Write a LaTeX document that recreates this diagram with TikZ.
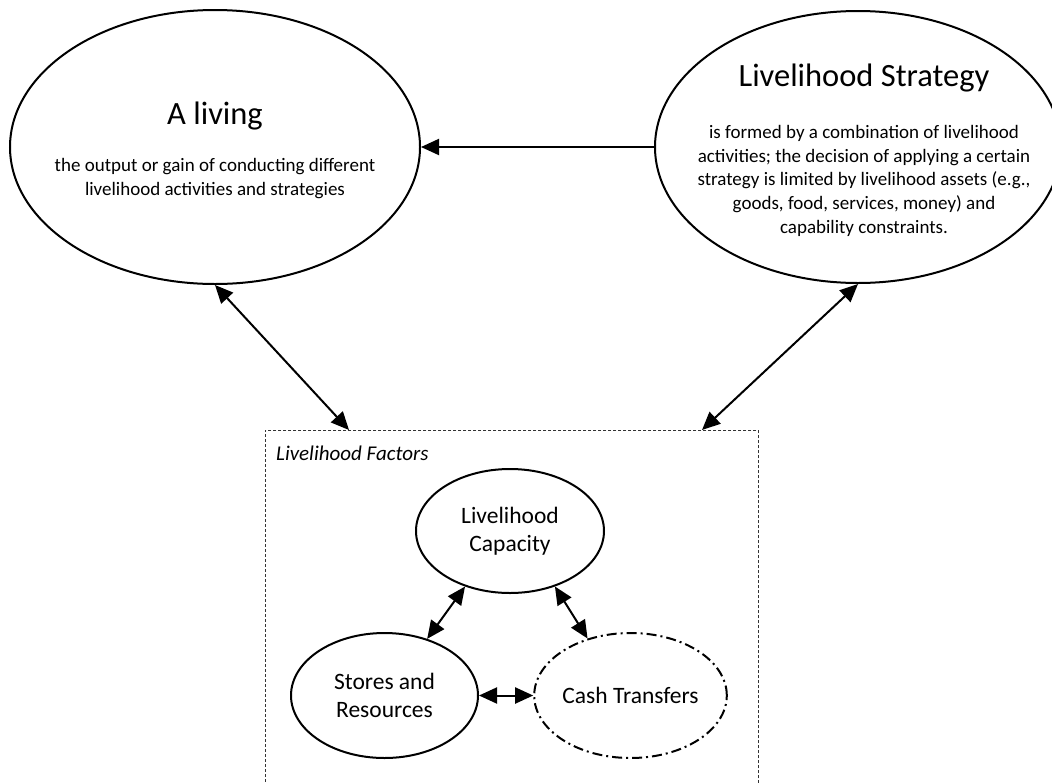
\documentclass[tikz,border=0pt]{standalone}
\usepackage{fontspec}
\setmainfont{Carlito}
\usetikzlibrary{shapes.geometric,arrows.meta}
\begin{document}
\begin{tikzpicture}[x=1pt,y=-1pt,
  bigell/.style={draw, ellipse, line width=2pt, inner sep=0pt},
  smallell/.style={draw, ellipse, line width=2pt, inner sep=0pt,
    minimum width=187pt, minimum height=125pt, align=center,
    font=\fontsize{23.5}{28}\selectfont},
  conn/.style={line width=2pt, {Triangle[length=18pt,width=16pt]}-{Triangle[length=18pt,width=16pt]}},
  oneway/.style={line width=2pt, -{Triangle[length=18pt,width=16pt]}},
  titletext/.style={anchor=base, inner sep=0pt, font=\fontsize{32.5}{39}\selectfont},
  bodytext/.style={anchor=north, inner sep=0pt, align=center, font=\fontsize{19}{23.75}\selectfont},
  factorbox/.style={draw=black!80, line width=0.7pt, dash pattern=on 3pt off 2pt,
    minimum width=493pt, minimum height=400pt, anchor=north west, inner sep=0pt},
]
\useasboundingbox (0,0) rectangle (1052,782);

% big ellipses
\node[bigell, minimum width=410pt, minimum height=274pt] (living) at (215,147) {};
\node[bigell, minimum width=406pt, minimum height=272pt] (strat) at (858,147) {};

\node[titletext] (livingtitle) at (215,124) {A living};
\node[bodytext] (livingbody) at (215,158) {the output or gain of conducting different\\livelihood activities and strategies};

\node[titletext] (strattitle) at (864,86) {Livelihood Strategy};
\node[bodytext] (stratbody) at (864,125) {is formed by a combination of livelihood\\activities; the decision of applying a certain\\strategy is limited by livelihood assets (e.g.,\\goods, food, services, money) and\\capability constraints.};

% factors box
\node[factorbox] (box) at (265,430) {};
\node[anchor=base west, inner sep=0pt, font=\fontsize{21}{25}\selectfont\itshape] (boxlabel) at (276,460) {Livelihood Factors};
\coordinate (b1) at (349,430);
\coordinate (b2) at (702,430);

% inner ellipses
\node[smallell, minimum width=188pt, minimum height=124pt] (cap) at (510,531) {Livelihood\\Capacity};
\node[smallell] (stores) at (384.5,695.5) {Stores and\\Resources};
\node[smallell, dash pattern=on 10pt off 4pt on 2pt off 4pt] (cash) at (630.5,695.5) {Cash Transfers};

% connectors
\draw[oneway] (strat.west) -- (living.east);
\draw[conn] (living.south) -- (b1);
\draw[conn] (strat.south) -- (b2);
\draw[conn] (cap.231) -- (stores.53);
\draw[conn] (cap.309) -- (cash.127);
\draw[conn] (stores.east) -- (cash.west);
\end{tikzpicture}
\end{document}
